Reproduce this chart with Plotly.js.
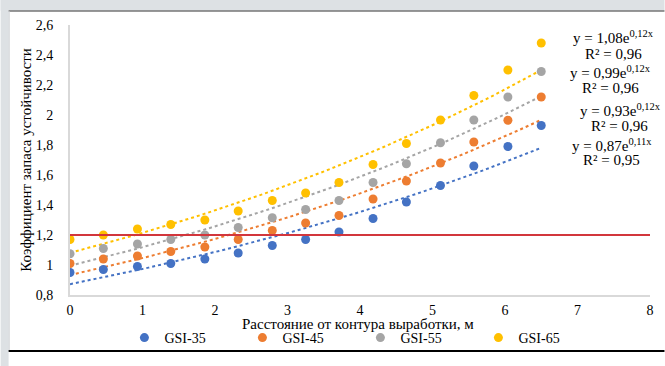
<!DOCTYPE html>
<html>
<head>
<meta charset="utf-8">
<script src="https://cdn.plot.ly/plotly-3.0.1.min.js"></script>
<style>
html,body{margin:0;padding:0;background:#ffffff;}
#chart{width:665px;height:366px;}
</style>
</head>
<body>
<div id="chart"></div>
<script>
// ---- data ----
const distance = [0, 0.46, 0.93, 1.39, 1.86, 2.32, 2.79, 3.25, 3.71, 4.18, 4.64, 5.11, 5.57, 6.04, 6.5];
const seriesNames = ["GSI-35", "GSI-45", "GSI-55", "GSI-65"];
const gsi35 = [0.95, 0.97, 0.99, 1.01, 1.04, 1.08, 1.13, 1.17, 1.22, 1.31, 1.42, 1.53, 1.66, 1.79, 1.93];
const gsi45 = [1.01, 1.04, 1.06, 1.09, 1.12, 1.17, 1.23, 1.28, 1.33, 1.44, 1.56, 1.68, 1.82, 1.965, 2.12];
const gsi55 = [1.075, 1.11, 1.14, 1.17, 1.20, 1.25, 1.315, 1.37, 1.43, 1.55, 1.675, 1.815, 1.967, 2.12, 2.29];
const gsi65 = [1.17, 1.20, 1.24, 1.27, 1.30, 1.36, 1.43, 1.48, 1.55, 1.67, 1.81, 1.967, 2.13, 2.30, 2.48];
const thresholdX = [0, 8];
const thresholdY = [1.2, 1.2];
const equationTexts = [
  "y = 1,08e<sup>0,12x</sup>", "R² = 0,96",
  "y = 0,99e<sup>0,12x</sup>", "R² = 0,96",
  "y = 0,93e<sup>0,12x</sup>", "R² = 0,96",
  "y = 0,87e<sup>0,11x</sup>", "R² = 0,95"
];
const xTitle = "Расстояние от контура выработки, м";
const yTitle = "Коэффициент запаса устойчивости";

// ---- styles ----
const colors = ["#4472c4", "#ed7d31", "#a5a5a5", "#ffc000"];
const seriesValues = [gsi35, gsi45, gsi55, gsi65];
const FONT = "Liberation Serif";

// exponential least-squares trendline (fit of ln y on x), as Excel does
function expFit(xs, ys) {
  const n = xs.length;
  let sx = 0, sy = 0, sxx = 0, sxy = 0;
  for (let i = 0; i < n; i++) {
    const ly = Math.log(ys[i]);
    sx += xs[i]; sy += ly; sxx += xs[i] * xs[i]; sxy += xs[i] * ly;
  }
  const b = (n * sxy - sx * sy) / (n * sxx - sx * sx);
  const a = Math.exp((sy - b * sx) / n);
  return {a, b};
}

const traces = [];
seriesValues.forEach((vals, i) => {
  const fit = expFit(distance, vals);
  const tx = [], ty = [];
  const x0 = distance[0], x1 = distance[distance.length - 1];
  for (let k = 0; k <= 60; k++) {
    const xv = x0 + (x1 - x0) * k / 60;
    tx.push(xv); ty.push(fit.a * Math.exp(fit.b * xv));
  }
  traces.push({
    x: tx, y: ty, mode: "lines", type: "scatter", showlegend: false, hoverinfo: "skip",
    line: {color: colors[i], width: 2, dash: "dot"}
  });
});
seriesValues.forEach((vals, i) => {
  traces.push({
    x: distance, y: vals, mode: "markers", type: "scatter", name: seriesNames[i],
    marker: {color: colors[i], size: 9}
  });
});
traces.push({
  x: thresholdX, y: thresholdY, mode: "lines", type: "scatter", showlegend: false,
  line: {color: "#d2363c", width: 2}
});

// frame: px -> paper conversions
const L = 69.5, R = 650.5, T = 25, B = 295;
const px = v => (v - L) / (R - L);
const py = v => (B - v) / (B - T);

const eqPos = [
  [7.50, 2.520], [7.49, 2.407],
  [7.46, 2.290], [7.46, 2.178],
  [7.59, 2.035], [7.58, 1.927],
  [7.48, 1.800], [7.47, 1.700]
];
const annotations = equationTexts.map((t, i) => ({
  text: t, x: eqPos[i][0], y: eqPos[i][1], xref: "x", yref: "y",
  showarrow: false, xanchor: "center", yanchor: "middle",
  font: {family: FONT, size: 15, color: "#000"}
}));
annotations.push({
  text: xTitle, xref: "paper", yref: "paper", x: px(358), y: py(324),
  showarrow: false, xanchor: "center", yanchor: "middle",
  font: {family: FONT, size: 15, color: "#000"}
});

const shapes = [
  {type: "rect", xref: "paper", yref: "paper", x0: px(0), x1: px(8), y0: py(366), y1: py(0), fillcolor: "#dde1e4", line: {width: 0}, layer: "below"},
  {type: "rect", xref: "paper", yref: "paper", x0: px(0), x1: px(665), y0: py(10.5), y1: py(0), fillcolor: "#dde1e4", line: {width: 0}, layer: "below"},
  {type: "line", xref: "paper", yref: "paper", x0: px(8), x1: px(665), y0: py(11), y1: py(11), line: {color: "#333", width: 1}},
  {type: "line", xref: "paper", yref: "paper", x0: px(8.5), x1: px(8.5), y0: py(11), y1: py(351), line: {color: "#c8cccf", width: 1}},
  {type: "line", xref: "paper", yref: "paper", x0: px(8), x1: px(665), y0: py(351), y1: py(351), line: {color: "#000", width: 2}}
];

const layout = {
  width: 665, height: 366,
  margin: {l: L, r: 665 - R, t: T, b: 366 - B, pad: 0},
  paper_bgcolor: "#ffffff", plot_bgcolor: "#ffffff",
  separators: ",.",
  font: {family: FONT, size: 14, color: "#000"},
  showlegend: true,
  legend: {
    orientation: "h", x: px(124), xanchor: "left", y: py(338), yanchor: "middle",
    font: {family: FONT, size: 14, color: "#000"},
    entrywidth: 73, entrywidthmode: "pixels", itemwidth: 30,
    bgcolor: "rgba(0,0,0,0)"
  },
  xaxis: {
    range: [0, 8], dtick: 1, tick0: 0, showgrid: false, zeroline: false,
    showline: true, linecolor: "#d9d9d9", linewidth: 2,
    ticks: "outside", ticklen: 1, tickcolor: "rgba(0,0,0,0)",
    tickfont: {family: FONT, size: 14, color: "#000"}
  },
  yaxis: {
    range: [0.8, 2.6], dtick: 0.2, tick0: 0.8, showgrid: false, zeroline: false,
    showline: true, linecolor: "#d9d9d9", linewidth: 2,
    ticks: "outside", ticklen: 12, tickcolor: "rgba(0,0,0,0)",
    tickfont: {family: FONT, size: 14, color: "#000"},
    title: {text: yTitle, font: {family: FONT, size: 15, color: "#000"}, standoff: 0}
  },
  annotations: annotations,
  shapes: shapes
};

Plotly.newPlot("chart", traces, layout, {displayModeBar: false, staticPlot: true});
</script>
</body>
</html>
